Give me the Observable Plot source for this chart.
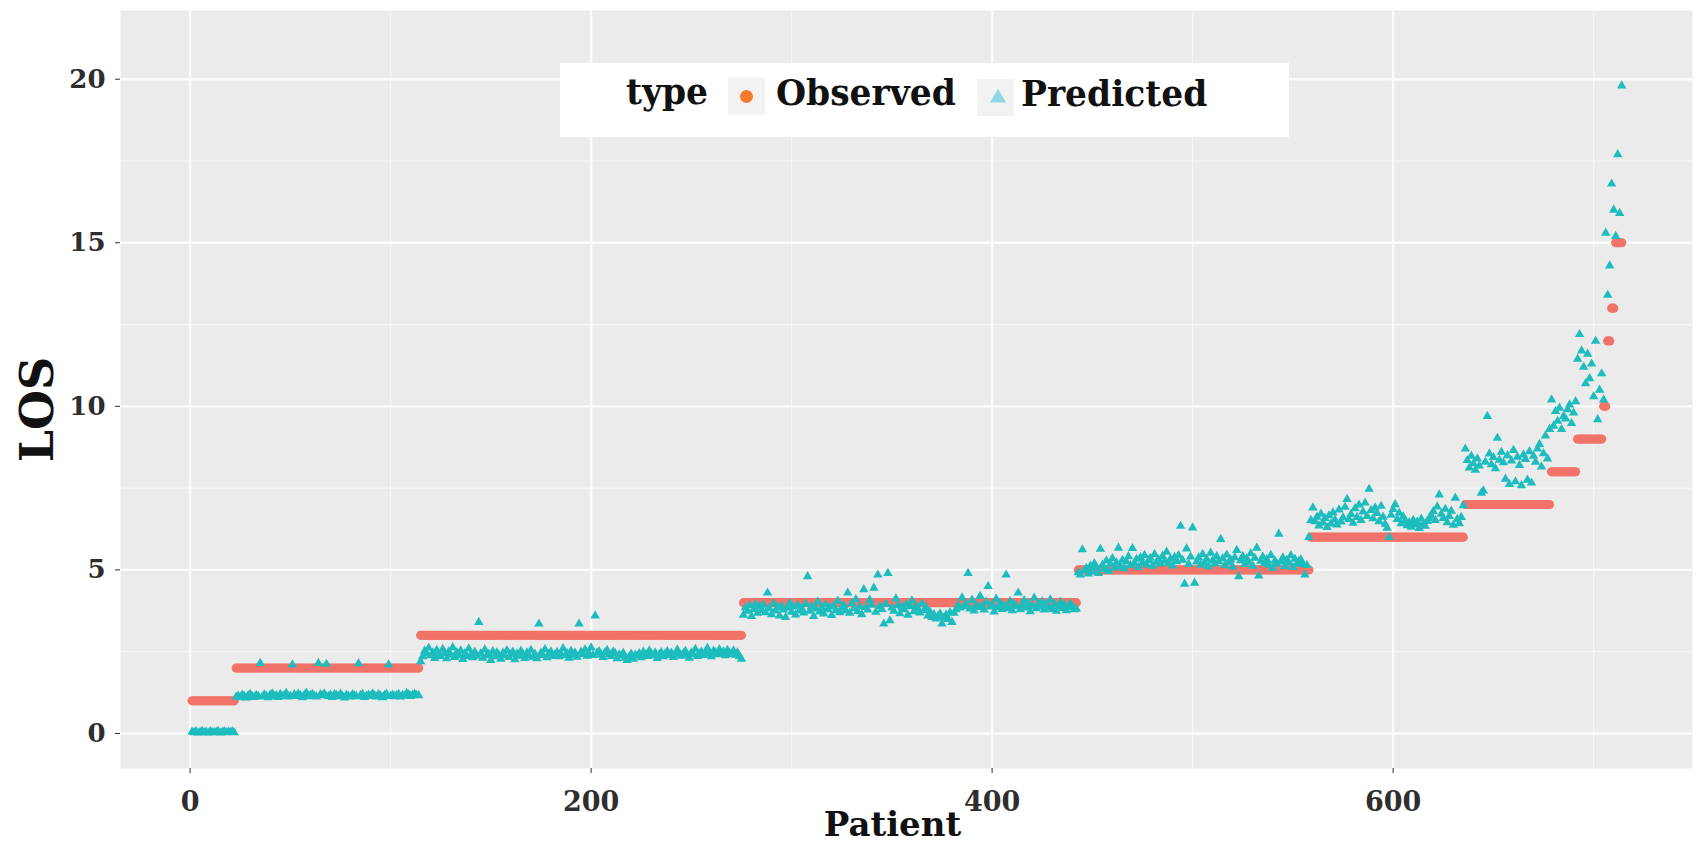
<!DOCTYPE html>
<html><head><meta charset="utf-8">
<script src="https://cdn.jsdelivr.net/npm/d3@7"></script>
<script src="https://cdn.jsdelivr.net/npm/@observablehq/plot@0.6"></script>
<style>html,body{margin:0;padding:0;background:#fff;} #chart svg{display:block;}</style>
</head><body><div id="chart"></div>
<script>
// Observed LOS (patients sorted by LOS): level and number of patients at that level
const losLevels = [1, 2, 3, 4, 5, 6, 7, 8, 9, 10, 12, 13, 15];
const losCounts = [22, 92, 161, 167, 116, 77, 43, 13, 13, 2, 2, 2, 4];

// Predicted LOS, grouped by observed level
const predL1 = [0.05,0.03,0.06,0.02,0.04,0.07,0.03,0.05,0.02,0.06,0.04,0.03,0.05,0.07,0.02,0.04,0.06,0.03,0.05,0.04,0.06,0.03];
const predL2 = [1.12,1.15,1.10,1.18,1.14,1.09,1.16,1.20,1.13,1.11,
  1.17,1.14,2.15,1.12,1.19,1.15,1.10,1.18,1.22,1.13,
  1.16,1.11,1.20,1.14,1.17,1.23,1.12,1.15,2.10,1.19,
  1.14,1.21,1.16,1.10,1.18,1.24,1.13,1.17,1.20,1.15,
  1.12,2.15,1.19,1.16,1.22,2.12,1.14,1.18,1.11,1.20,
  1.17,1.13,1.21,1.15,1.09,1.18,1.14,1.12,1.19,1.16,
  1.13,2.14,1.17,1.20,1.11,1.15,1.18,1.14,1.22,1.16,
  1.12,1.19,1.15,1.10,1.17,1.21,2.10,1.14,1.18,1.13,
  1.16,1.20,1.12,1.17,1.15,1.23,1.19,1.14,1.18,1.21,1.17,1.16];
const predL3 = [2.20,2.35,2.52,2.44,2.61,2.38,2.47,2.30,2.55,2.42,
  2.36,2.58,2.45,2.29,2.50,2.40,2.63,2.33,2.48,2.39,
  2.53,2.27,2.44,2.36,2.59,2.41,2.32,2.49,2.37,3.40,
  2.45,2.31,2.56,2.38,2.43,2.24,2.51,2.35,2.47,2.40,
  2.28,2.46,2.39,2.54,2.33,2.42,2.49,2.26,2.44,2.37,
  2.52,2.41,2.30,2.47,2.38,2.55,2.34,2.43,2.29,3.35,
  2.46,2.39,2.57,2.32,2.44,2.50,2.36,2.41,2.48,2.35,
  2.43,2.60,2.38,2.45,2.31,2.52,2.40,2.47,2.34,3.35,
  2.49,2.42,2.56,2.37,2.44,2.62,2.39,3.60,2.46,2.51,
  2.40,2.33,2.48,2.55,2.42,2.36,2.50,2.45,2.29,2.41,
  2.38,2.46,2.31,2.24,2.35,2.43,2.28,2.40,2.37,2.45,
  2.32,2.49,2.41,2.36,2.53,2.44,2.38,2.47,2.30,2.42,
  2.48,2.35,2.44,2.51,2.39,2.46,2.33,2.41,2.56,2.43,
  2.37,2.45,2.52,2.40,2.31,2.47,2.42,2.58,2.36,2.44,
  2.50,2.39,2.46,2.61,2.43,2.35,2.52,2.48,2.41,2.57,
  2.44,2.50,2.38,2.55,2.46,2.42,2.53,2.40,2.47,2.36,2.28];
const predL4 = [3.62,3.85,3.74,3.91,3.58,3.80,3.95,3.68,3.88,3.77,
  3.93,3.70,4.30,3.82,3.64,3.97,3.75,3.86,3.60,3.90,
  3.78,3.55,3.84,3.99,3.71,3.87,3.63,3.92,3.76,3.83,
  3.69,3.96,4.80,3.74,3.89,3.58,3.81,4.02,3.72,3.85,
  3.66,3.94,3.79,3.87,3.61,3.90,3.76,4.05,3.70,3.84,
  3.92,3.75,4.30,3.68,3.97,3.82,4.10,3.73,3.88,3.64,
  4.40,3.86,3.78,4.08,3.93,4.45,3.71,4.85,3.89,3.80,
  3.35,3.96,4.90,3.45,3.84,3.74,4.12,3.91,3.67,3.86,
  3.79,3.95,3.62,3.88,4.06,3.73,3.90,3.82,3.69,3.97,
  3.77,3.85,3.60,3.72,3.55,3.64,3.51,3.58,3.66,3.35,
  3.54,3.62,3.49,3.70,3.40,3.68,3.79,3.92,3.84,4.15,
  3.88,3.96,4.90,3.81,4.08,3.75,3.93,3.86,4.20,3.90,
  3.78,4.02,4.50,3.87,3.94,3.72,4.11,3.85,3.98,3.80,
  3.91,4.85,3.83,4.04,3.76,3.95,3.88,4.30,3.79,3.92,
  4.07,3.84,3.97,3.73,3.90,4.14,3.82,3.96,3.87,4.03,
  3.78,3.93,3.85,4.09,3.80,3.95,3.74,3.89,4.01,3.83,
  3.92,3.76,3.88,3.97,3.86,3.79,3.81];
const predL5 = [4.92,4.85,5.62,4.98,5.05,4.88,5.12,4.95,5.20,5.08,
  4.90,5.64,5.15,5.02,5.28,4.96,5.18,5.35,5.06,5.22,
  5.67,5.10,5.30,5.04,5.25,5.41,5.14,5.66,5.20,5.33,
  5.08,5.38,5.22,5.45,5.16,5.29,5.36,5.12,5.48,5.24,
  5.31,5.19,5.42,5.27,5.55,5.21,5.34,5.13,5.39,5.26,
  5.44,6.34,5.30,4.57,5.65,5.18,5.40,6.29,4.60,5.25,
  5.37,5.15,5.48,5.22,5.33,5.10,5.52,5.28,5.19,5.41,
  5.26,5.94,5.35,5.14,5.46,5.23,5.31,5.09,5.38,5.60,
  4.80,5.29,5.42,5.17,5.34,5.24,5.50,5.12,5.36,5.67,
  4.82,5.27,5.40,5.20,5.32,5.15,5.45,5.06,5.28,5.18,
  6.10,5.25,5.37,5.11,5.30,5.22,5.44,5.08,5.33,5.19,
  5.26,5.31,5.17,4.85,5.14,6.00];
const predL6 = [6.52,6.90,6.48,6.62,6.35,6.71,6.44,6.58,6.30,6.66,
  6.41,6.75,6.53,6.38,6.84,6.47,6.60,6.92,7.16,6.55,
  6.70,6.43,6.88,6.61,6.99,6.52,6.78,7.05,6.64,7.47,
  6.82,6.57,6.90,6.73,6.48,6.95,6.62,6.40,6.28,6.00,
  6.68,6.85,7.00,6.55,6.74,6.42,6.63,6.50,6.36,6.45,
  6.31,6.52,6.38,6.47,6.27,6.56,6.40,6.34,6.49,6.58,
  6.66,6.79,6.52,6.93,7.30,6.71,6.58,6.86,6.45,6.64,
  6.80,6.37,7.20,6.55,6.42,6.61,6.97];
const predL7 = [8.70,8.35,8.12,8.48,8.25,8.05,8.40,8.18,7.35,7.42,
  8.30,9.70,8.55,8.22,8.44,8.10,9.03,8.36,8.60,8.28,
  7.78,8.50,7.62,8.34,8.66,7.70,8.45,8.20,7.58,8.52,
  8.38,7.75,8.62,7.66,8.48,8.30,8.70,8.84,8.15,8.56,
  9.10,8.40,9.30];
const predL8 = [10.20,9.40,9.85,9.55,9.95,9.30,9.70,9.62,9.90,10.05,9.48,9.80,10.15];
const predL9 = [11.45,12.20,11.70,11.20,10.70,11.60,10.85,11.30,10.30,12.00,9.60,10.50,11.00];
const predTail = [10.20,15.30,13.40,14.30,16.80,16.00,15.20,17.70,15.90,19.80];

// Axis ticks and grid lines
const xMajor = [0, 200, 400, 600];
const xMinor = [100, 300, 500, 700];
const yMajor = [0, 5, 10, 15, 20];
const yMinor = [2.5, 7.5, 12.5, 17.5];
const typeNames = ["Observed", "Predicted"];

// Build tables
const observed = [];
losLevels.forEach((lv, i) => {
  for (let k = 0; k < losCounts[i]; k++) observed.push({patient: observed.length + 1, los: lv, type: typeNames[0]});
});
const predValues = [].concat(predL1, predL2, predL3, predL4, predL5, predL6, predL7, predL8, predL9, predTail);
const predicted = predValues.map((v, i) => ({patient: i + 1, los: v, type: typeNames[1]}));

const FONT = "DejaVu Serif";
const chart = Plot.plot({
  width: 1699,
  height: 842,
  marginLeft: 120,
  marginRight: 7,
  marginTop: 10,
  marginBottom: 74,
  x: {domain: [-34.7, 749.3]},
  y: {domain: [-1.07, 22.1]},
  style: {fontFamily: FONT, background: "white", overflow: "visible"},
  marks: [
    Plot.frame({fill: "#EBEBEB", stroke: null}),
    Plot.ruleX(xMinor, {stroke: "#F6F6F6", strokeWidth: 1.2}),
    Plot.ruleY(yMinor, {stroke: "#F6F6F6", strokeWidth: 1.2}),
    Plot.ruleX(xMajor, {stroke: "#FBFBFB", strokeWidth: 2.4}),
    Plot.ruleY(yMajor, {stroke: "#FBFBFB", strokeWidth: 2.4}),
    Plot.axisX({ticks: xMajor, tickSize: 5, tickPadding: 18, fontSize: 27, fontWeight: "bold", color: "#2e2e2e", label: null}),
    Plot.axisY({ticks: yMajor, tickSize: 5, tickPadding: 10, fontSize: 26, fontWeight: "bold", color: "#2e2e2e", label: null}),
    Plot.dot(observed, {x: "patient", y: "los", r: 4.6, fill: "#F2736A", stroke: null}),
    Plot.dot(predicted, {x: "patient", y: "los", symbol: "triangle", r: 3.5, fill: "#1DBDBE", stroke: null}),
    Plot.text(["Patient"], {text: d => d, frameAnchor: "bottom", textAnchor: "middle", lineAnchor: "middle", dx: -14, dy: 57, fontSize: 34, fontWeight: "bold", fill: "#111"}),
    Plot.text(["LOS"], {text: d => d, frameAnchor: "left", textAnchor: "middle", lineAnchor: "middle", dx: -82.7, dy: 20, rotate: -90, fontSize: 46, fontWeight: "bold", fill: "#111"})
  ]
});
document.getElementById("chart").appendChild(chart);

// Legend inside the panel (top centre), as in the reference
const svg = d3.select(chart);
const lg = svg.append("g").attr("font-family", FONT).attr("font-weight", "bold").attr("font-size", 34.5).attr("fill", "#111").attr("text-anchor", "start");
lg.append("rect").attr("x", 560).attr("y", 63).attr("width", 729).attr("height", 74).attr("fill", "white");
lg.append("text").attr("x", 626).attr("y", 104).attr("text-anchor", "start").text("type");
lg.append("rect").attr("x", 728).attr("y", 78).attr("width", 37).attr("height", 37).attr("fill", "#F2F2F2");
lg.append("circle").attr("cx", 746.5).attr("cy", 96.5).attr("r", 6.5).attr("fill", "#F57A2E");
lg.append("text").attr("x", 776).attr("y", 105).attr("text-anchor", "start").text(typeNames[0]);
lg.append("rect").attr("x", 977).attr("y", 79).attr("width", 37).attr("height", 37).attr("fill", "#F2F2F2");
lg.append("path").attr("d", d3.symbol(d3.symbolTriangle, 110)()).attr("transform", "translate(998,98)").attr("fill", "#8DD6E8");
lg.append("text").attr("x", 1021).attr("y", 106).attr("text-anchor", "start").text(typeNames[1]);
</script></body></html>
